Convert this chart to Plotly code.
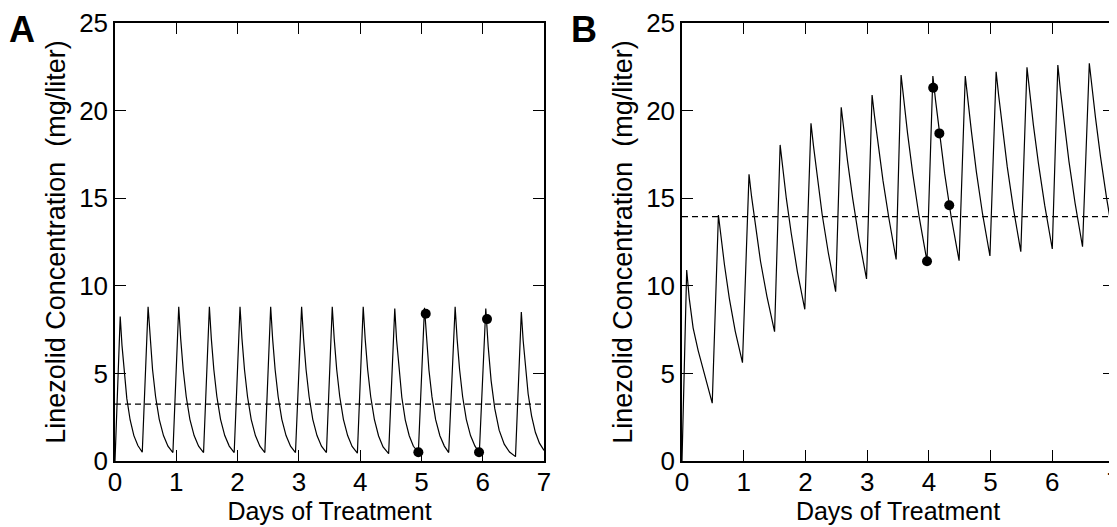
import plotly.graph_objs as go
from plotly.subplots import make_subplots

# Panel A - simulated linezolid concentration (mg/liter) vs days of treatment
days_a = [
    0.000, 0.085, 0.114, 0.150, 0.193, 0.247, 0.308, 0.373,
    0.445, 0.540, 0.572, 0.613, 0.662, 0.722, 0.791, 0.864,
    0.945, 1.040, 1.072, 1.113, 1.162, 1.222, 1.291, 1.364,
    1.445, 1.540, 1.572, 1.613, 1.662, 1.722, 1.791, 1.864,
    1.945, 2.040, 2.072, 2.113, 2.162, 2.222, 2.291, 2.364,
    2.445, 2.540, 2.572, 2.613, 2.662, 2.722, 2.791, 2.864,
    2.945, 3.045, 3.077, 3.118, 3.167, 3.227, 3.296, 3.369,
    3.450, 3.545, 3.577, 3.618, 3.667, 3.727, 3.796, 3.869,
    3.955, 4.050, 4.082, 4.123, 4.172, 4.232, 4.301, 4.374,
    4.465, 4.565, 4.595, 4.634, 4.680, 4.736, 4.801, 4.869,
    4.950, 5.050, 5.082, 5.123, 5.172, 5.232, 5.301, 5.374,
    5.445, 5.550, 5.582, 5.623, 5.672, 5.732, 5.801, 5.874,
    5.945, 6.050, 6.089, 6.137, 6.196, 6.268, 6.351, 6.438,
    6.535, 6.630, 6.660, 6.697, 6.741, 6.797, 6.859, 6.926,
    7.000]
conc_a = [
    0.00, 8.25, 6.60, 4.98, 3.56, 2.34, 1.45, 0.88,
    0.50, 8.80, 6.97, 5.21, 3.68, 2.38, 1.45, 0.85,
    0.48, 8.80, 6.97, 5.21, 3.68, 2.38, 1.45, 0.85,
    0.48, 8.80, 6.97, 5.21, 3.68, 2.38, 1.45, 0.85,
    0.48, 8.80, 6.97, 5.21, 3.68, 2.38, 1.45, 0.85,
    0.48, 8.80, 6.97, 5.21, 3.68, 2.38, 1.45, 0.85,
    0.48, 8.80, 6.97, 5.21, 3.68, 2.38, 1.45, 0.85,
    0.48, 8.80, 6.97, 5.21, 3.68, 2.38, 1.45, 0.83,
    0.45, 8.80, 6.97, 5.21, 3.68, 2.38, 1.43, 0.80,
    0.42, 8.70, 6.89, 5.15, 3.64, 2.35, 1.44, 0.84,
    0.50, 8.75, 6.93, 5.18, 3.66, 2.36, 1.44, 0.85,
    0.48, 8.80, 6.97, 5.21, 3.68, 2.38, 1.45, 0.85,
    0.48, 8.70, 6.55, 4.59, 3.00, 1.76, 0.96, 0.51,
    0.25, 8.50, 6.88, 5.27, 3.84, 2.58, 1.64, 1.02,
    0.60]
obs_days_a = [4.95, 5.07, 5.94, 6.07]
obs_conc_a = [0.50, 8.40, 0.50, 8.10]
mic_a = 3.25

# Panel B
days_b = [
    0.000, 0.076, 0.117, 0.180, 0.262, 0.366,
    0.490, 0.590, 0.629, 0.688, 0.766, 0.863,
    0.980, 1.086, 1.127, 1.190, 1.272, 1.376,
    1.500, 1.590, 1.630, 1.690, 1.770, 1.870,
    1.990, 2.090, 2.130, 2.190, 2.270, 2.370,
    2.490, 2.580, 2.621, 2.683, 2.765, 2.867,
    2.990, 3.080, 3.119, 3.178, 3.257, 3.355,
    3.470, 3.550, 3.592, 3.655, 3.739, 3.844,
    3.970, 4.065, 4.108, 4.171, 4.256, 4.363,
    4.490, 4.590, 4.630, 4.690, 4.770, 4.870,
    4.990, 5.090, 5.130, 5.190, 5.270, 5.370,
    5.490, 5.590, 5.631, 5.693, 5.775, 5.877,
    6.000, 6.090, 6.130, 6.190, 6.270, 6.370,
    6.490, 6.600, 6.640, 6.700, 6.780, 6.880,
    7.000]
conc_b = [
    0.00, 10.90, 9.30, 7.60, 6.30, 4.90,
    3.30, 14.04, 12.80, 11.20, 9.30, 7.40,
    5.61, 16.36, 15.10, 13.40, 11.40, 9.40,
    7.38, 18.04, 16.80, 15.00, 13.00, 10.80,
    8.66, 19.27, 18.00, 16.20, 14.10, 11.90,
    9.66, 20.19, 18.90, 17.10, 15.00, 12.70,
    10.39, 20.89, 19.70, 18.00, 16.00, 13.80,
    11.50, 22.03, 20.60, 18.70, 16.40, 13.90,
    11.40, 21.97, 20.60, 18.70, 16.40, 13.90,
    11.43, 21.97, 20.60, 18.80, 16.50, 14.10,
    11.70, 22.22, 20.90, 19.00, 16.80, 14.40,
    11.95, 22.47, 21.10, 19.20, 17.00, 14.60,
    12.10, 22.60, 21.20, 19.40, 17.10, 14.70,
    12.23, 22.70, 21.40, 19.60, 17.40, 15.00,
    12.52]
obs_days_b = [3.97, 4.07, 4.17, 4.33]
obs_conc_b = [11.40, 21.30, 18.70, 14.60]
mic_b = 13.95

W, H = 1117, 527
OFF = 8  # the page body adds an 8px margin, so shift everything back by that much
FONT = 'Liberation Sans, Arial, Helvetica, sans-serif'

fig = make_subplots(rows=1, cols=2)

for col, (dx, dy, ox, oy, mic) in enumerate([
        (days_a, conc_a, obs_days_a, obs_conc_a, mic_a),
        (days_b, conc_b, obs_days_b, obs_conc_b, mic_b)], start=1):
    fig.add_trace(go.Scatter(x=dx, y=dy, mode='lines',
                             line=dict(color='black', width=1.2),
                             showlegend=False), 1, col)
    fig.add_trace(go.Scatter(x=[0, 7], y=[mic, mic], mode='lines',
                             line=dict(color='black', width=1.2, dash='6px,4px'),
                             showlegend=False), 1, col)
    fig.add_trace(go.Scatter(x=ox, y=oy, mode='markers',
                             marker=dict(color='black', size=10),
                             showlegend=False, cliponaxis=False), 1, col)

axis_style = dict(showline=True, linecolor='black', linewidth=1.5, mirror='ticks',
                  ticks='inside', ticklen=11, tickwidth=1.2, tickcolor='black',
                  showgrid=False, zeroline=False, automargin=False,
                  tickfont=dict(family=FONT, size=26, color='black'))

# plot boxes in window pixels (left, right) / (top, bottom)
boxes_x = [(115, 544), (682, 1114)]
box_top, box_bottom = 23, 461

for i, (l, r) in enumerate(boxes_x, start=1):
    fig.update_xaxes(axis_style, range=[0, 7], dtick=1,
                     domain=[(l - OFF) / W, (r - OFF) / W], ticklabelstandoff=-3,
                     title=dict(text='Days of Treatment', standoff=0,
                                font=dict(family=FONT, size=25, color='black')),
                     row=1, col=i)
    fig.update_yaxes(axis_style, range=[0, 25], dtick=5,
                     domain=[1 - (box_bottom - OFF) / H, 1 - (box_top - OFF) / H],
                     ticklabelstandoff=0,
                     title=dict(text='Linezolid Concentration\u00a0 (mg/liter)', standoff=6,
                                font=dict(family=FONT, size=27, color='black')),
                     row=1, col=i)

# panel letters
for letter, xpix in [('A', 0), ('B', 570 - OFF)]:
    fig.add_annotation(text='<b>%s</b>' % letter, x=xpix / W, y=1,
                       xref='paper', yref='paper', borderpad=0,
                       xanchor='left', yanchor='top', showarrow=False,
                       font=dict(family=FONT, size=36, color='black'))

fig.update_layout(width=W, height=H, margin=dict(l=0, r=0, t=0, b=0),
                  plot_bgcolor='white', paper_bgcolor='white')

fig.write_html("out.html")
